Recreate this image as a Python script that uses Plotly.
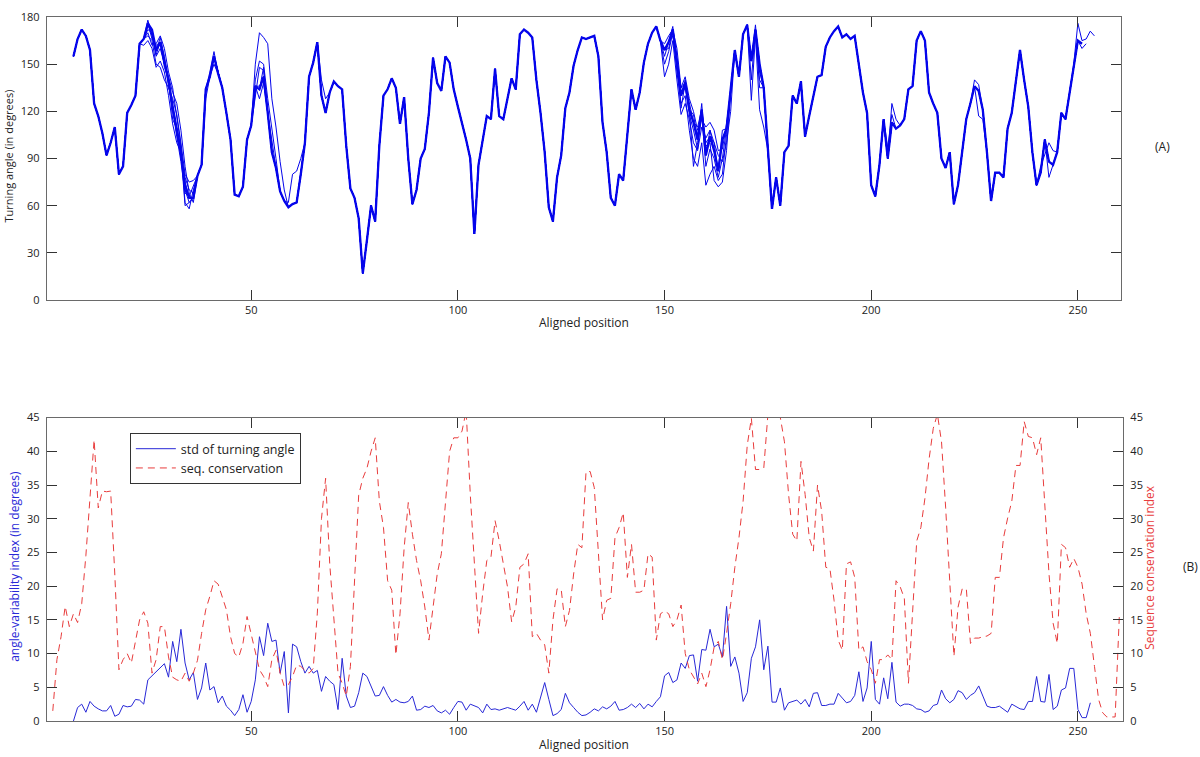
import plotly.graph_objects as go

# ---------------- Panel A data: turning angle per aligned position ----------------
angle_start = 7
angle_main = [
    155, 166, 172, 168, 159, 125, 117, 106, 92, 100,
    110, 80, 85, 119, 124, 130, 163, 166, 176, 172,
    159, 164, 152, 140, 123, 109, 94, 73, 65, 65,
    79, 86, 134, 142, 155, 144, 135, 119, 102, 67,
    66, 72, 102, 111, 136, 134, 142, 119, 94, 84,
    69, 63, 59, 61, 62, 80, 100, 142, 151, 164,
    130, 119, 132, 139, 136, 134, 98, 71, 65, 52,
    17, 38, 60, 50, 98, 130, 134, 141, 135, 112,
    129, 90, 61, 70, 90, 96, 119, 154, 138, 133,
    155, 151, 134, 123, 113, 102, 90, 42, 86, 102,
    117, 115, 147, 117, 115, 128, 141, 134, 169, 172,
    170, 167, 140, 119, 94, 59, 50, 78, 92, 122,
    132, 149, 159, 167, 166, 167, 168, 155, 113, 94,
    65, 60, 80, 76, 104, 134, 121, 132, 151, 163,
    170, 174, 165, 159, 164, 172, 152, 130, 138, 121,
    113, 102, 121, 92, 104, 95, 82, 102, 109, 132,
    159, 142, 169, 175, 152, 172, 150, 135, 95, 58,
    78, 60, 94, 98, 130, 125, 139, 104, 117, 130,
    142, 143, 161, 167, 171, 174, 167, 169, 166, 168,
    150, 132, 119, 73, 66, 86, 115, 90, 113, 109,
    111, 115, 134, 136, 165, 171, 165, 132, 125, 119,
    90, 84, 94, 61, 73, 94, 115, 125, 136, 133,
    121, 94, 63, 81, 81, 78, 109, 119, 140, 159,
    140, 123, 94, 73, 81, 102, 88, 86, 94, 119,
    115, 132, 150, 165, 163, 166, 171, 168,
]
angle_main_end = 251

# individual structures that deviate from the main trace (position: angle)
angle_variant_1 = {25: 168, 26: 165, 27: 150, 28: 148, 29: 140, 30: 135, 31: 128, 32: 118, 33: 100, 34: 80, 35: 75, 36: 76,
                   51: 150, 52: 170, 53: 167, 54: 163, 55: 128, 56: 110, 57: 88, 58: 70, 67: 140, 68: 128,
                   150: 142, 151: 150, 152: 165, 153: 140, 154: 118, 155: 125, 156: 115, 157: 100, 158: 95,
                   159: 110, 160: 103, 161: 108, 162: 100, 163: 92, 164: 88, 165: 100, 166: 120,
                   171: 127, 172: 168, 173: 121, 174: 110, 205: 125, 206: 115, 226: 117, 227: 115,
                   250: 176, 251: 165}
angle_variant_2 = {25: 170, 26: 162, 27: 163, 28: 168, 29: 160, 30: 145, 31: 135, 32: 115, 33: 98, 34: 62, 35: 58, 36: 70,
                   51: 140, 52: 152, 53: 150, 54: 128, 55: 110, 56: 90,
                   150: 150, 151: 158, 152: 170, 153: 145, 154: 125, 155: 130, 156: 108, 157: 90, 158: 85,
                   159: 100, 160: 73, 161: 80, 162: 85, 163: 76, 164: 80, 165: 105,
                   171: 140, 173: 135, 204: 97, 205: 118, 225: 140, 226: 137, 243: 78, 251: 160, 252: 163}
angle_variant_3 = {26: 168, 27: 155, 28: 160, 29: 150, 30: 142, 31: 132, 32: 125, 33: 108, 34: 85, 35: 68, 36: 62,
                   51: 130, 52: 148, 53: 146, 54: 122, 59: 62, 60: 80, 61: 82, 62: 90,
                   150: 163, 151: 168, 153: 160, 154: 135, 155: 142, 156: 128, 157: 120, 158: 108,
                   159: 115, 160: 110, 161: 113, 162: 108, 163: 95, 164: 96, 165: 112,
                   241: 85, 242: 92, 243: 100, 244: 95}
angle_variant_4 = {25: 172, 26: 170, 27: 158, 28: 167, 29: 155, 30: 138, 31: 118, 32: 104, 33: 88, 34: 68, 35: 66, 36: 72,
                   52: 128, 53: 138, 150: 155, 152: 168, 154: 122, 156: 118, 157: 108, 158: 96, 159: 118,
                   160: 85, 161: 96, 162: 90, 163: 78, 164: 90, 173: 140}
angle_variant_5 = {24: 162, 25: 165, 26: 160, 27: 148, 28: 152, 29: 145, 30: 130, 31: 112, 32: 100, 34: 70, 35: 62,
                   39: 128, 41: 150, 151: 160, 153: 148, 155: 135, 157: 85, 158: 100, 160: 98, 161: 100,
                   162: 76, 163: 72, 164: 75, 165: 95}
angle_variant_6 = {26: 166, 27: 162, 29: 148, 31: 115, 33: 90, 34: 78, 35: 70, 36: 68, 53: 148, 55: 100,
                   152: 174, 154: 135, 156: 125, 158: 110, 160: 95, 162: 100, 164: 108, 172: 175, 173: 145}
angle_variant_7 = {25: 174, 27: 156, 30: 136, 32: 105, 34: 60, 35: 62, 155: 140, 157: 118, 159: 125, 161: 108}
angle_variant_8 = {25: 178, 26: 168, 33: 96, 34: 70, 40: 145, 41: 158, 52: 136}
angle_variant_9 = {29: 150, 31: 120, 34: 75, 158: 105, 160: 100}
angle_variants = [angle_variant_1, angle_variant_2, angle_variant_3, angle_variant_4, angle_variant_5,
                  angle_variant_6, angle_variant_7, angle_variant_8, angle_variant_9]
angle_variant_ends = [254, 252, 251, 251, 251, 251, 251, 251, 251]

# ---------------- Panel B data ----------------
std_start = 7
std_angle = [
    0, 2.0, 2.5, 1.3, 2.9, 2.2, 1.8, 1.5, 1.5, 2.3,
    0.7, 1.0, 2.3, 2.1, 2.2, 3.2, 3.1, 2.5, 6.1, 6.7,
    7.3, 7.8, 8.5, 6.5, 11.8, 8.8, 13.6, 8.6, 6.1, 7.2,
    3.2, 4.9, 8.6, 4.6, 5.1, 2.7, 3.7, 2.2, 1.6, 0.8,
    1.7, 3.9, 1.3, 2.9, 6.1, 12.5, 9.7, 14.5, 11.8, 12.0,
    7.1, 10.3, 1.2, 11.4, 11.0, 8.8, 7.1, 8.1, 7.1, 7.5,
    4.4, 6.6, 5.9, 5.4, 1.7, 9.3, 3.7, 2.0, 2.2, 4.2,
    7.1, 6.6, 5.1, 3.7, 3.8, 5.1, 3.8, 2.8, 3.2, 2.8,
    2.7, 2.9, 3.7, 1.6, 1.7, 2.2, 2.0, 2.3, 1.5, 1.2,
    1.6, 1.0, 2.0, 2.9, 2.8, 1.6, 2.5, 2.3, 2.0, 1.2,
    2.5, 1.7, 1.8, 1.6, 1.8, 2.0, 1.8, 1.6, 2.2, 2.9,
    1.6, 2.5, 1.3, 3.7, 5.7, 3.2, 0.8, 1.1, 1.7, 4.1,
    2.7, 2.0, 1.3, 0.8, 0.9, 1.3, 1.8, 1.5, 2.1, 1.8,
    2.2, 2.9, 1.6, 1.7, 2.0, 2.5, 2.0, 2.6, 1.8, 2.5,
    2.1, 2.9, 3.6, 6.7, 7.2, 5.7, 6.1, 8.6, 7.8, 9.7,
    9.8, 5.9, 10.6, 10.5, 13.6, 11.0, 11.4, 9.5, 17.0, 8.1,
    9.5, 7.1, 2.9, 4.2, 9.3, 11.0, 15.0, 7.6, 11.1, 2.8,
    2.8, 4.9, 1.6, 2.7, 2.9, 3.1, 2.5, 3.2, 2.1, 4.1,
    4.2, 2.3, 2.3, 2.5, 2.5, 4.1, 3.4, 2.7, 2.9, 3.8,
    7.3, 2.9, 4.9, 11.8, 3.2, 2.5, 6.4, 3.3, 8.7, 2.8,
    2.2, 2.5, 2.5, 2.3, 1.8, 1.7, 1.3, 1.5, 2.3, 2.5,
    4.6, 3.3, 2.7, 3.2, 4.5, 4.2, 3.2, 3.8, 4.2, 5.2,
    3.7, 2.2, 2.0, 2.0, 2.2, 1.7, 1.3, 2.5, 2.2, 1.8,
    1.7, 2.9, 2.9, 6.6, 2.9, 2.8, 6.9, 1.7, 2.2, 4.6,
    4.9, 7.8, 7.8, 1.7, 0.5, 0.5, 2.7,
]

cons_start = 2
seq_conservation = [
    1.5, 9.1, 12.5, 17, 14, 15.9, 14.6, 17.4, 24.5, 33,
    41.7, 31.6, 34.1, 34, 34.1, 21.8, 7.6, 9.1, 10, 8.6,
    12, 15, 16.2, 14.5, 7.1, 9.1, 14, 14, 9.5, 6.5,
    6.1, 5.9, 7.1, 5.9, 7.1, 9, 13, 16.5, 18.5, 20.8,
    20.3, 18.4, 16.5, 12.5, 10, 9.5, 11.5, 15.5, 13, 10.5,
    7.6, 6.6, 5.1, 9.1, 10.5, 7.1, 5.1, 5.4, 6.6, 8.3,
    8.1, 7.5, 7.1, 7.8, 16, 30, 36, 23.3, 15.7, 7.1,
    5.6, 3.7, 8.1, 21.8, 33.5, 36, 37.5, 40, 42, 32.6,
    28.7, 20.8, 19.4, 9.8, 15.9, 25.7, 32.4, 27.7, 23.8, 20.8,
    16.9, 12, 16.9, 21.8, 24.8, 32.6, 40, 42, 42, 43,
    46, 33.6, 22.8, 13, 18.9, 23.8, 24.3, 29.7, 26.7, 23.3,
    19.9, 14.7, 16.9, 22.8, 23.3, 24.8, 12.5, 13, 12, 11.3,
    7.1, 15, 19.6, 19.5, 14, 16.4, 21.8, 26.2, 25.7, 37,
    37, 34.6, 24.3, 15, 17.9, 18.2, 27.2, 28.7, 30.9, 21.3,
    26.2, 19.1, 19.1, 19.4, 24.8, 24.3, 12, 15.9, 16.3, 15.9,
    14, 15, 17.2, 10, 7.6, 6.6, 5.5, 7.1, 5.1, 7.6,
    11, 11.8, 9.1, 13, 17.4, 22.8, 27.2, 32.6, 40.9, 44.9,
    37.3, 37.3, 37.5, 45.5, 46.5, 46.5, 45, 41.4, 33.6, 27.7,
    26.7, 38.5, 33.6, 27.2, 25.2, 35, 31.1, 22.8, 22.6, 17.9,
    12, 10.5, 23.3, 23.6, 21.3, 10.5, 11, 8.8, 7.6, 5.6,
    9.1, 9.1, 9.8, 9.1, 20.8, 19.9, 18.2, 5.6, 16.9, 26.7,
    28.7, 33.1, 38.9, 43.4, 45.5, 41.4, 31.6, 20.8, 9.6, 16.9,
    19.6, 19.6, 11.5, 12.3, 12.3, 12.5, 12.6, 13, 21.3, 21.3,
    27.2, 30.1, 32.6, 37.9, 37.9, 44.4, 42.2, 42, 39.5, 42,
    32.6, 21.8, 14.5, 11.5, 26.2, 25.7, 22.8, 24.1, 22.8, 20.3,
    15.9, 13, 8.1, 3.2, 1.2, 0.6, 0.6, 0.6, 15.4,
]

x_ticks = [50, 100, 150, 200, 250]
angle_ticks = [0, 30, 60, 90, 120, 150, 180]
index_ticks = [0, 5, 10, 15, 20, 25, 30, 35, 40, 45]

# ---------------- styling ----------------
BLUE_A = "rgb(5,5,235)"
BLUE_B = "rgb(40,40,215)"
RED = "rgb(232,60,60)"
FONT = "Open Sans"
AXIS_COL = "#6a6a6a"
TICK_COL = "#333333"

angle_pos = [angle_start + i for i in range(len(angle_main))]
std_pos = [std_start + i for i in range(len(std_angle))]
cons_pos = [cons_start + i for i in range(len(seq_conservation))]

fig = go.Figure()

for var, end in zip(angle_variants, angle_variant_ends):
    xs, ys = [], []
    for p, v in zip(angle_pos, angle_main):
        if p > end:
            break
        xs.append(p)
        ys.append(var.get(p, v))
    fig.add_trace(go.Scatter(x=xs, y=ys, mode="lines", xaxis="x", yaxis="y",
                             line=dict(color=BLUE_A, width=1), showlegend=False, hoverinfo="skip"))

main_x = [p for p in angle_pos if p <= angle_main_end]
main_y = angle_main[:len(main_x)]
fig.add_trace(go.Scatter(x=main_x, y=main_y, mode="lines", xaxis="x", yaxis="y",
                         line=dict(color=BLUE_A, width=2.3), showlegend=False, hoverinfo="skip"))

fig.add_trace(go.Scatter(x=std_pos, y=std_angle, mode="lines", xaxis="x2", yaxis="y2",
                         name="std of turning angle", line=dict(color=BLUE_B, width=1)))
fig.add_trace(go.Scatter(x=cons_pos, y=seq_conservation, mode="lines", xaxis="x2", yaxis="y3",
                         name="seq. conservation", line=dict(color=RED, width=1, dash="7px,5px")))

axis_common = dict(showline=True, linecolor=AXIS_COL, linewidth=1.3, ticks="inside", ticklen=10,
                   tickcolor=TICK_COL, tickwidth=1, showgrid=False, zeroline=False,
                   tickfont=dict(family=FONT, size=11, color="#222"))

fig.update_layout(
    width=1200, height=757,
    margin=dict(l=47, r=77, t=9, b=36),
    paper_bgcolor="white", plot_bgcolor="white",
    hovermode=False,
    font=dict(family=FONT, size=11, color="#222"),
    xaxis=dict(domain=[0, 0.998], anchor="y", range=[0.6, 260.4], tickvals=x_ticks,
               mirror="ticks", **axis_common),
    yaxis=dict(domain=[0.598, 1.0], anchor="x", range=[0, 180], tickvals=angle_ticks,
               mirror="ticks", ticklabelstandoff=4, **axis_common),
    xaxis2=dict(domain=[0, 1.0], anchor="y2", range=[0.6, 260.9], tickvals=x_ticks,
                mirror="ticks", **axis_common),
    yaxis2=dict(domain=[0, 0.431], anchor="x2", range=[0, 45], tickvals=index_ticks,
                ticklabelstandoff=4, **axis_common),
    yaxis3=dict(overlaying="y2", side="right", anchor="x2", range=[0, 45], tickvals=index_ticks,
                ticklabelstandoff=4, **axis_common),
    legend=dict(x=0.077, y=0.409, xanchor="left", yanchor="top", bgcolor="white",
                bordercolor="#333", borderwidth=1, font=dict(family=FONT, size=12.5, color="#222"),
                itemwidth=40, tracegroupgap=4),
)

ann = [
    dict(text="Aligned position", x=0.499, y=0.566, size=12, color="#222", angle=0),
    dict(text="Turning angle (in degrees)", x=-0.0362, y=0.802, size=11, color="#222", angle=-90),
    dict(text="(A)", x=1.037, y=0.816, size=12, color="#222", angle=0),
    dict(text="Aligned position", x=0.499, y=-0.0337, size=12, color="#222", angle=0),
    dict(text="angle-variability index (in degrees)", x=-0.0297, y=0.219, size=12, color="rgb(40,40,215)", angle=-90),
    dict(text="Sequence conservation index", x=1.025, y=0.219, size=12, color="rgb(232,60,60)", angle=-90),
    dict(text="(B)", x=1.0623, y=0.219, size=12, color="#222", angle=0),
]
for a in ann:
    fig.add_annotation(text=a["text"], x=a["x"], y=a["y"], xref="paper", yref="paper",
                       xanchor="center", yanchor="middle", showarrow=False, textangle=a["angle"],
                       font=dict(family=FONT, size=a["size"], color=a["color"]))

# remove the browser's default page margin so the 1200x757 figure fills the window exactly
fig.write_html("out.html", config={"displayModeBar": False},
               post_script="document.body.style.margin='0px';")
